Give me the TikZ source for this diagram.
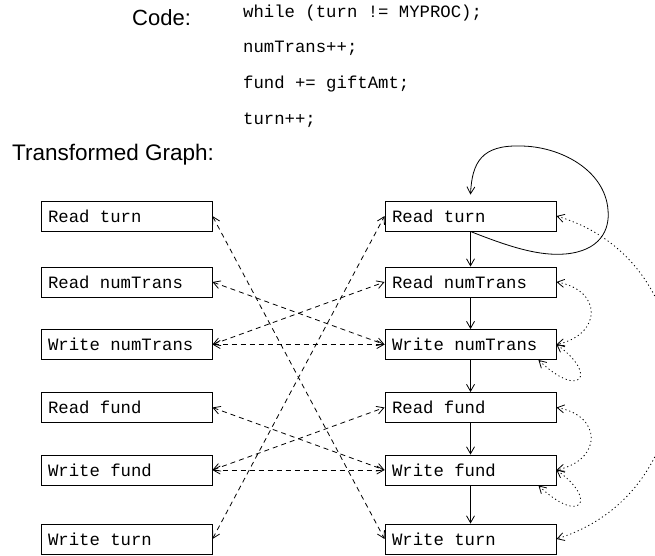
\documentclass[tikz,border=0pt]{standalone}
\usepackage{fontspec}
\setmainfont{Liberation Sans}
\newfontfamily\codefont{Liberation Mono}
\usetikzlibrary{arrows.meta,calc}
\newcommand{\labfont}{\codefont\fontsize{17.3}{20}\selectfont}
\newcommand{\boxtxt}[1]{\makebox[157pt][l]{#1}}
\begin{document}
\begin{tikzpicture}[x=1pt,y=-1pt,
  >={Straight Barb[length=7pt,width=8pt]},
  box/.style={draw,line width=0.9pt,minimum height=30pt,inner xsep=7pt,inner ysep=0pt,
              font=\labfont},
  codeline/.style={anchor=base west,inner sep=0pt,font=\labfont},
  title/.style={anchor=base west,inner sep=0pt},
  flow/.style={line width=0.8pt},
  dep/.style={line width=0.8pt,dash pattern=on 5pt off 4pt},
  self/.style={line width=0.8pt,dash pattern=on 1.2pt off 2.8pt}]
\useasboundingbox (0,0) rectangle (655,555);
\clip (0,0) rectangle (655,555);
% titles and code
\node[title,font=\fontsize{22}{26}\selectfont] (codelbl) at (132,25) {Code:};
\node[codeline] (c1) at (243,17) {while (turn != MYPROC);};
\node[codeline] (c2) at (243,52) {numTrans++;};
\node[codeline] (c3) at (243,88) {fund += giftAmt;};
\node[codeline] (c4) at (243,124) {turn++;};
\node[title,font=\fontsize{22.5}{26}\selectfont] (tglbl) at (12,160) {Transformed Graph:};
% left column
\node[box] (L1) at (126.5,216) {\boxtxt{Read turn}};
\node[box] (L2) at (126.5,282) {\boxtxt{Read numTrans}};
\node[box] (L3) at (126.5,344.5) {\boxtxt{Write numTrans}};
\node[box] (L4) at (126.5,407.5) {\boxtxt{Read fund}};
\node[box] (L5) at (126.5,470) {\boxtxt{Write fund}};
\node[box] (L6) at (126.5,539) {\boxtxt{Write turn}};
% right column
\node[box] (R1) at (470.5,216) {\boxtxt{Read turn}};
\node[box] (R2) at (470.5,282) {\boxtxt{Read numTrans}};
\node[box] (R3) at (470.5,344.5) {\boxtxt{Write numTrans}};
\node[box] (R4) at (470.5,407.5) {\boxtxt{Read fund}};
\node[box] (R5) at (470.5,470) {\boxtxt{Write fund}};
\node[box] (R6) at (470.5,539) {\boxtxt{Write turn}};
% control flow
\draw[flow,->] (R1.south) -- (R2.north);
\draw[flow,->] (R2.south) -- (R3.north);
\draw[flow,->] (R3.south) -- (R4.north);
\draw[flow,->] (R4.south) -- (R5.north);
\draw[flow,->] (R5.south) -- (R6.north);
\coordinate (loopend) at ($(R1.north)+(0,-6)$);
\draw[flow,->] (R1.south) .. controls (512,248) and (540,256) .. (565,254)
  .. controls (600,251) and (610,230) .. (608,210)
  .. controls (605,170) and (560,146) .. (520,146)
  .. controls (482,145) and (472,162) .. (loopend);
% dependences between columns
\draw[dep,<->] (L1.east) -- (R6.west);
\draw[dep,<->] (L6.east) -- (R1.west);
\draw[dep,<->] (L2.east) -- (R3.west);
\draw[dep,<->] (L3.east) -- (R2.west);
\draw[dep,<->] (L3.east) -- (R3.west);
\draw[dep,<->] (L4.east) -- (R5.west);
\draw[dep,<->] (L5.east) -- (R4.west);
\draw[dep,<->] (L5.east) -- (R5.west);
% dependences within the right column
\draw[self,<->] (R1.east) .. controls +(156,46) and +(156,-49) .. (R6.east);
\draw[self,<->] (R2.east) .. controls +(46,8) and +(46,-10) .. (R3.east);
\draw[self,<->] (R4.east) .. controls +(46,8) and +(46,-10) .. (R5.east);
\coordinate (s3) at ($(R3.south east)+(-18,0)$);
\coordinate (s5) at ($(R5.south east)+(-18,0)$);
\draw[self,<->] (R3.east) .. controls +(42,30) and +(42,40) .. (s3);
\draw[self,<->] (R5.east) .. controls +(42,30) and +(42,40) .. (s5);
\end{tikzpicture}
\end{document}
